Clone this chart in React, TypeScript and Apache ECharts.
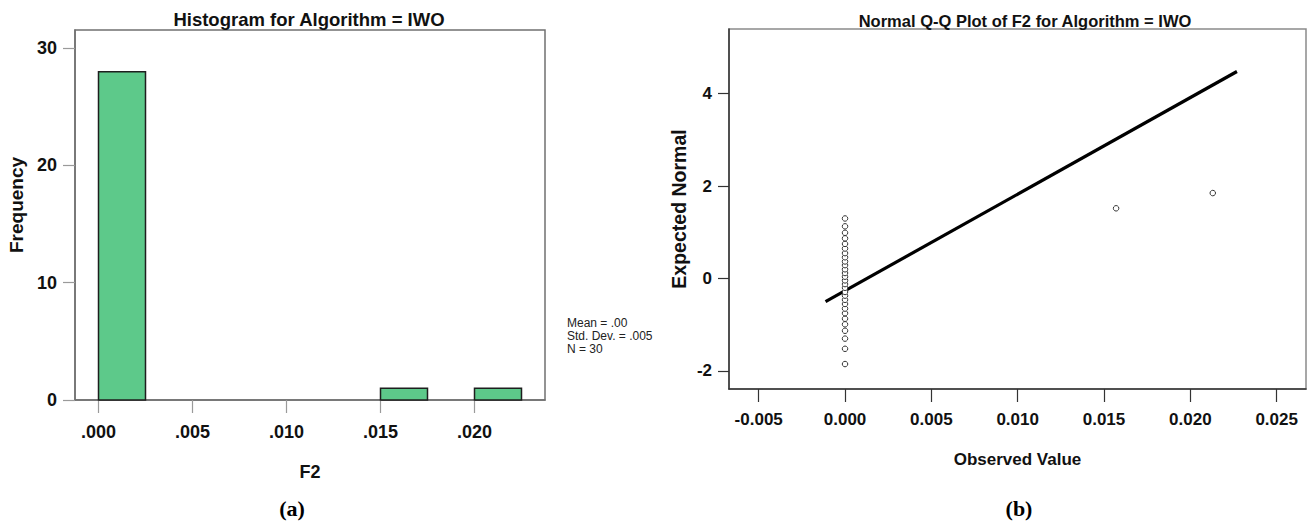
import React, { useEffect, useRef } from "react";
import * as echarts from "echarts";

// Histogram (a)
const binStarts = [0, 0.0025, 0.005, 0.0075, 0.01, 0.0125, 0.015, 0.0175, 0.02];
const binWidth = 0.0025;
const binCounts = [28, 0, 0, 0, 0, 0, 1, 0, 1];
const histXTicks = [0, 0.005, 0.01, 0.015, 0.02];
const histYTicks = [0, 10, 20, 30];
const statsLines = ["Mean = .00", "Std. Dev. = .005", "N = 30"];

// Q-Q plot (b)
const observedValues = [
  0, 0, 0, 0, 0, 0, 0, 0, 0, 0, 0, 0, 0, 0, 0, 0, 0, 0, 0, 0, 0, 0, 0, 0, 0, 0, 0, 0,
  0.0157, 0.0213,
];
const expectedNormal = [
  -1.85, -1.52, -1.3, -1.13, -0.99, -0.87, -0.75, -0.65, -0.55, -0.46, -0.37, -0.29,
  -0.2, -0.12, -0.04, 0.04, 0.12, 0.2, 0.29, 0.37, 0.46, 0.55, 0.65, 0.75, 0.87, 0.99,
  1.13, 1.3, 1.52, 1.85,
];
const refLineX = [-0.00113, 0.0227];
const refLineY = [-0.5, 4.48];
const qqXTicks = [-0.005, 0, 0.005, 0.01, 0.015, 0.02, 0.025];
const qqYTicks = [-2, 0, 2, 4];

const NARROW = "'Liberation Sans Narrow', 'Arial Narrow', 'Liberation Sans', sans-serif";
const WIDE = "'Liberation Sans', Arial, sans-serif";

export default function App() {
  const ref = useRef<HTMLDivElement>(null);
  useEffect(() => {
    if (!ref.current) return;
    const chart = echarts.init(ref.current, undefined, { renderer: "svg" });
    const histData = binStarts.map((s, i) => [s, s + binWidth, binCounts[i]]);
    const qqData = observedValues.map((v, i) => [v, expectedNormal[i]]);
    const lineData = refLineX.map((v, i) => [v, refLineY[i]]);
    chart.setOption({
      animation: false,
      backgroundColor: "#ffffff",
      title: [
        {
          text: "Histogram for Algorithm = IWO",
          left: 309,
          top: 10,
          textAlign: "center",
          padding: 0,
          textStyle: { fontFamily: NARROW, fontWeight: "bold", fontSize: 18.5, color: "#111" },
        },
        {
          text: "Normal Q-Q Plot of F2 for Algorithm = IWO",
          left: 1025,
          top: 12,
          textAlign: "center",
          padding: 0,
          textStyle: { fontFamily: NARROW, fontWeight: "bold", fontSize: 16.5, color: "#111" },
        },
      ],
      grid: [
        {
          left: 75,
          top: 30,
          width: 470,
          height: 370,
          show: true,
          borderColor: "#707070",
          borderWidth: 1.5,
          containLabel: false,
        },
        {
          left: 729,
          top: 29,
          width: 577,
          height: 360,
          show: true,
          borderColor: "#8a8a8a",
          borderWidth: 1.5,
          containLabel: false,
        },
      ],
      xAxis: [
        {
          type: "value",
          gridIndex: 0,
          min: -0.00125,
          max: 0.02375,
          splitLine: { show: false },
          axisLine: { show: true, onZero: false, lineStyle: { color: "#707070", width: 1.5 } },
          axisTick: { show: true, length: 13, customValues: histXTicks, lineStyle: { color: "#9a9a9a", width: 1.2 } },
          axisLabel: {
            customValues: histXTicks,
            margin: 23,
            fontFamily: NARROW,
            fontWeight: "bold",
            fontSize: 18,
            color: "#111",
            formatter: (v: number) => v.toFixed(3).replace(/^0/, ""),
          },
          name: "F2",
          nameLocation: "middle",
          nameGap: 63,
          nameTextStyle: { fontFamily: NARROW, fontWeight: "bold", fontSize: 18, color: "#111" },
        },
        {
          type: "value",
          gridIndex: 1,
          min: -0.00672,
          max: 0.0267,
          splitLine: { show: false },
          axisLine: { show: true, onZero: false, lineStyle: { color: "#333", width: 1.5 } },
          axisTick: { show: true, length: 13, customValues: qqXTicks, lineStyle: { color: "#333", width: 1.2 } },
          axisLabel: {
            customValues: qqXTicks,
            margin: 22,
            fontFamily: NARROW,
            fontWeight: "bold",
            fontSize: 17,
            color: "#111",
            formatter: (v: number) => v.toFixed(3),
          },
          name: "Observed Value",
          nameLocation: "middle",
          nameGap: 62,
          nameTextStyle: { fontFamily: NARROW, fontWeight: "bold", fontSize: 17, color: "#111" },
        },
      ],
      yAxis: [
        {
          type: "value",
          gridIndex: 0,
          min: 0,
          max: 31.55,
          splitLine: { show: false },
          axisLine: { show: true, onZero: false, lineStyle: { color: "#707070", width: 1.5 } },
          axisTick: { show: true, length: 12, customValues: histYTicks, lineStyle: { color: "#9a9a9a", width: 1.2 } },
          axisLabel: {
            customValues: histYTicks,
            margin: 18,
            fontFamily: NARROW,
            fontWeight: "bold",
            fontSize: 18,
            color: "#111",
          },
        },
        {
          type: "value",
          gridIndex: 1,
          min: -2.39,
          max: 5.4,
          splitLine: { show: false },
          axisLine: { show: true, onZero: false, lineStyle: { color: "#333", width: 1.5 } },
          axisTick: { show: true, length: 11, customValues: qqYTicks, lineStyle: { color: "#333", width: 1.2 } },
          axisLabel: {
            customValues: qqYTicks,
            margin: 17,
            fontFamily: NARROW,
            fontWeight: "bold",
            fontSize: 17,
            color: "#111",
          },
          name: "Expected Normal",
          nameLocation: "middle",
          nameGap: 40,
          nameTextStyle: { fontFamily: WIDE, fontWeight: "bold", fontSize: 19.5, color: "#111" },
        },
      ],
      series: [
        {
          type: "custom",
          name: "Frequency",
          xAxisIndex: 0,
          yAxisIndex: 0,
          data: histData,
          renderItem: (params: any, api: any) => {
            const x0 = api.value(0);
            const x1 = api.value(1);
            const c = api.value(2);
            if (!c) return null;
            const p0 = api.coord([x0, c]);
            const p1 = api.coord([x1, 0]);
            return {
              type: "rect",
              shape: { x: p0[0], y: p0[1], width: p1[0] - p0[0], height: p1[1] - p0[1] },
              style: { fill: "#5dc98a", stroke: "#1e1e1e", lineWidth: 1.5 },
            };
          },
        },
        {
          type: "line",
          name: "Reference line",
          xAxisIndex: 1,
          yAxisIndex: 1,
          data: lineData,
          symbol: "none",
          lineStyle: { color: "#000", width: 3.2 },
          z: 2,
        },
        {
          type: "scatter",
          name: "F2",
          xAxisIndex: 1,
          yAxisIndex: 1,
          data: qqData,
          symbol: "circle",
          symbolSize: 5.5,
          itemStyle: { color: "#ffffff", borderColor: "#333", borderWidth: 1, opacity: 1 },
          z: 3,
        },
      ],
      graphic: [
        {
          type: "text",
          x: 16,
          y: 205,
          rotation: Math.PI / 2,
          style: {
            text: "Frequency",
            fontFamily: WIDE,
            fontWeight: "bold",
            fontSize: 19,
            fill: "#111",
            align: "center",
            verticalAlign: "middle",
          },
        },
        ...statsLines.map((t, i) => ({
          type: "text",
          left: 567,
          top: 317 + i * 13,
          style: { text: t, fontFamily: NARROW, fontSize: 12, fill: "#222" },
        })),
        {
          type: "text",
          x: 292,
          y: 508,
          style: {
            text: "(a)",
            fontFamily: "'Liberation Serif', 'Times New Roman', serif",
            fontWeight: "bold",
            fontSize: 22,
            fill: "#000",
            align: "center",
            verticalAlign: "middle",
          },
        },
        {
          type: "text",
          x: 1019,
          y: 508,
          style: {
            text: "(b)",
            fontFamily: "'Liberation Serif', 'Times New Roman', serif",
            fontWeight: "bold",
            fontSize: 22,
            fill: "#000",
            align: "center",
            verticalAlign: "middle",
          },
        },
      ],
    });
    return () => chart.dispose();
  }, []);
  return (
    <div
      ref={ref}
      style={{ position: "fixed", left: 0, top: 0, width: 1310, height: 524, background: "#fff" }}
    />
  );
}
